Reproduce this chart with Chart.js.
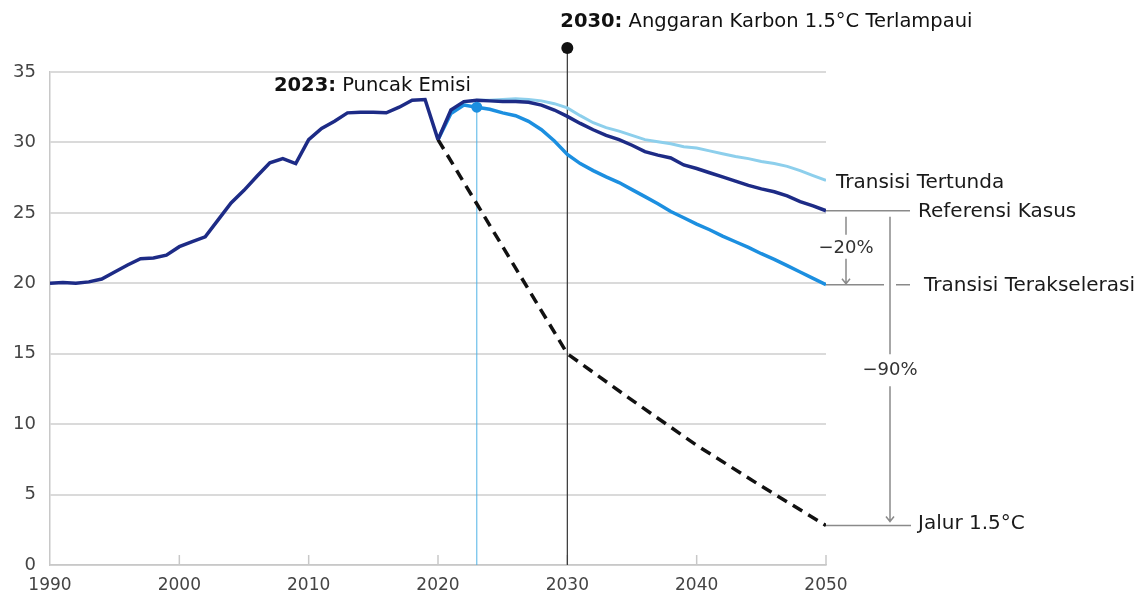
<!DOCTYPE html>
<html>
<head>
<meta charset="utf-8">
<script src="https://cdn.jsdelivr.net/npm/chart.js@4"></script>
<style>
  body { margin: 0; background: #fff; }
  #wrap { width: 1147px; height: 596px; }
</style>
</head>
<body>
<div id="wrap"><canvas id="emisiChart"></canvas></div>
<script>
// emisi historis (Gt CO2)
const tahunHistoris = [1990, 1991, 1992, 1993, 1994, 1995, 1996, 1997, 1998, 1999,
  2000, 2001, 2002, 2003, 2004, 2005, 2006, 2007, 2008, 2009,
  2010, 2011, 2012, 2013, 2014, 2015, 2016, 2017, 2018, 2019, 2020];
const emisiHistoris = [20.0, 20.05, 20.0, 20.1, 20.3, 20.8, 21.3, 21.75, 21.8, 22.0,
  22.6, 22.95, 23.3, 24.5, 25.7, 26.6, 27.6, 28.55, 28.85, 28.5,
  30.2, 31.0, 31.5, 32.1, 32.15, 32.15, 32.1, 32.5, 33.0, 33.05, 30.2];

// proyeksi 2020-2050
const tahunProyeksi = [2020, 2021, 2022, 2023, 2024, 2025, 2026, 2027, 2028, 2029,
  2030, 2031, 2032, 2033, 2034, 2035, 2036, 2037, 2038, 2039,
  2040, 2041, 2042, 2043, 2044, 2045, 2046, 2047, 2048, 2049, 2050];
const referensiKasus = [30.2, 32.3, 32.9, 33.0, 32.95, 32.9, 32.9, 32.85, 32.65, 32.3,
  31.85, 31.35, 30.9, 30.5, 30.2, 29.8, 29.35, 29.1, 28.9, 28.4,
  28.15, 27.85, 27.55, 27.25, 26.95, 26.7, 26.5, 26.2, 25.8, 25.5, 25.15];
const transisiTertunda = [30.2, 32.2, 32.85, 33.0, 33.0, 33.05, 33.1, 33.05, 32.95, 32.75,
  32.45, 31.9, 31.4, 31.05, 30.8, 30.5, 30.2, 30.05, 29.9, 29.7,
  29.6, 29.4, 29.2, 29.0, 28.85, 28.65, 28.5, 28.3, 28.0, 27.65, 27.3];
const transisiTerakselerasi = [30.2, 32.05, 32.65, 32.5, 32.35, 32.1, 31.9, 31.5, 30.9, 30.1,
  29.15, 28.5, 28.0, 27.55, 27.15, 26.65, 26.15, 25.65, 25.1, 24.65,
  24.2, 23.8, 23.35, 22.95, 22.55, 22.1, 21.7, 21.25, 20.8, 20.35, 19.9];

const tahunJalur = [2020, 2030, 2035, 2040, 2045, 2050];
const jalur15 = [30.2, 15.0, 11.7, 8.5, 5.6, 2.8];

const tahunPuncak = 2023;
const tahunAnggaran = 2030;
const xTicks = [1990, 2000, 2010, 2020, 2030, 2040, 2050];
const yTicks = [0, 5, 10, 15, 20, 25, 30, 35];

const NAVY = "#1d2b86";
const LIGHT = "#8dcfec";
const MID = "#1c8fe0";
const FONT = "'DejaVu Sans', sans-serif";

const pts = (xs, ys) => xs.map((x, i) => ({ x: x, y: ys[i] }));

const annotasi = {
  id: "annotasi",
  beforeDatasetsDraw(chart) {
    const { ctx, scales: { x, y } } = chart;
    const base = y.getPixelForValue(0);
    ctx.save();
    // tick kecil di sumbu x
    ctx.strokeStyle = "#c8c8c8";
    ctx.lineWidth = 1.5;
    xTicks.slice(1).forEach((t) => {
      const px = x.getPixelForValue(t);
      ctx.beginPath();
      ctx.moveTo(px, base);
      ctx.lineTo(px, base - 10);
      ctx.stroke();
    });
    // garis 2030
    const x30 = x.getPixelForValue(tahunAnggaran);
    ctx.strokeStyle = "#333";
    ctx.lineWidth = 1.2;
    ctx.beginPath();
    ctx.moveTo(x30, y.getPixelForValue(36.7));
    ctx.lineTo(x30, base);
    ctx.stroke();
    // garis 2023
    const i23 = tahunProyeksi.indexOf(tahunPuncak);
    const x23 = x.getPixelForValue(tahunPuncak);
    ctx.strokeStyle = "#4fb3e6";
    ctx.lineWidth = 1;
    ctx.beginPath();
    ctx.moveTo(x23, y.getPixelForValue(transisiTerakselerasi[i23]));
    ctx.lineTo(x23, base);
    ctx.stroke();
    ctx.restore();
  },
  afterDatasetsDraw(chart) {
    const { ctx, scales: { x, y } } = chart;
    const last = tahunProyeksi.length - 1;
    const x50 = x.getPixelForValue(2050);
    const yRef = y.getPixelForValue(referensiKasus[last]);
    const yAks = y.getPixelForValue(transisiTerakselerasi[last]);
    const yTer = y.getPixelForValue(transisiTertunda[last]);
    const yJal = y.getPixelForValue(jalur15[jalur15.length - 1]);
    ctx.save();

    // titik puncak 2023
    const i23 = tahunProyeksi.indexOf(tahunPuncak);
    ctx.fillStyle = MID;
    ctx.beginPath();
    ctx.arc(x.getPixelForValue(tahunPuncak), y.getPixelForValue(transisiTerakselerasi[i23]), 5.5, 0, Math.PI * 2);
    ctx.fill();

    // titik 2030
    const x30 = x.getPixelForValue(tahunAnggaran);
    ctx.fillStyle = "#111";
    ctx.beginPath();
    ctx.arc(x30, y.getPixelForValue(36.7), 6, 0, Math.PI * 2);
    ctx.fill();

    // garis penghubung label kanan
    ctx.strokeStyle = "#8a8a8a";
    ctx.lineWidth = 1.5;
    const xV = x50 + 64;
    ctx.beginPath();
    ctx.moveTo(x50, yRef); ctx.lineTo(x50 + 84, yRef);
    ctx.moveTo(x50, yAks); ctx.lineTo(xV - 6, yAks);
    ctx.moveTo(xV + 6, yAks); ctx.lineTo(x50 + 84, yAks);
    ctx.moveTo(x50, yJal); ctx.lineTo(x50 + 85, yJal);
    ctx.stroke();

    // panah -20%
    const xA = x50 + 20;
    ctx.beginPath();
    ctx.moveTo(xA, yRef + 6); ctx.lineTo(xA, yRef + 24);
    ctx.moveTo(xA, yAks - 26); ctx.lineTo(xA, yAks - 1);
    ctx.moveTo(xA - 4, yAks - 6); ctx.lineTo(xA, yAks - 1); ctx.lineTo(xA + 4, yAks - 6);
    ctx.stroke();
    // panah -90%
    const yMid = (yRef + yJal) / 2 + 2;
    ctx.beginPath();
    ctx.moveTo(xV, yRef + 6); ctx.lineTo(xV, yMid - 16);
    ctx.moveTo(xV, yMid + 16); ctx.lineTo(xV, yJal - 4);
    ctx.moveTo(xV - 4, yJal - 9); ctx.lineTo(xV, yJal - 4); ctx.lineTo(xV + 4, yJal - 9);
    ctx.stroke();

    ctx.fillStyle = "#333";
    ctx.textBaseline = "middle";
    ctx.font = "18px " + FONT;
    ctx.textAlign = "center";
    ctx.fillText("\u221220%", xA, (yRef + yAks) / 2 + 1);
    ctx.fillText("\u221290%", xV, yMid);

    ctx.fillStyle = "#1a1a1a";
    ctx.textAlign = "left";
    ctx.font = "20px " + FONT;
    ctx.fillText("Transisi Tertunda", x50 + 10, yTer + 2);
    ctx.fillText("Referensi Kasus", x50 + 92, yRef + 1);
    ctx.fillText("Transisi Terakselerasi", x50 + 98, yAks + 1);
    ctx.fillText("Jalur 1.5\u00b0C", x50 + 92, yJal - 2);

    // judul anotasi
    const drawLabel = (bold, rest, px, py, align) => {
      ctx.font = "bold 19.5px " + FONT;
      const wb = ctx.measureText(bold).width;
      ctx.font = "19.5px " + FONT;
      const wr = ctx.measureText(rest).width;
      let sx = align === "right" ? px - wb - wr : px;
      ctx.textAlign = "left";
      ctx.font = "bold 19.5px " + FONT;
      ctx.fillText(bold, sx, py);
      ctx.font = "19.5px " + FONT;
      ctx.fillText(rest, sx + wb, py);
    };
    ctx.fillStyle = "#111";
    drawLabel("2030:", " Anggaran Karbon 1.5\u00b0C Terlampaui", x30 - 7, 22, "left");
    drawLabel("2023:", " Puncak Emisi", x.getPixelForValue(tahunPuncak) - 6, 86, "right");
    ctx.restore();
  },
};

new Chart(document.getElementById("emisiChart"), {
  type: "line",
  data: {
    datasets: [
      {
        label: "Historis",
        data: pts(tahunHistoris, emisiHistoris),
        borderColor: NAVY,
        borderWidth: 3.5,
        pointRadius: 0,
        order: 0,
      },
      {
        label: "Referensi Kasus",
        data: pts(tahunProyeksi, referensiKasus),
        borderColor: NAVY,
        borderWidth: 3.5,
        pointRadius: 0,
        order: 1,
      },
      {
        label: "Jalur 1.5°C",
        data: pts(tahunJalur, jalur15),
        borderColor: "#111",
        borderWidth: 3.5,
        borderDash: [11, 7],
        pointRadius: 0,
        order: 2,
      },
      {
        label: "Transisi Terakselerasi",
        data: pts(tahunProyeksi, transisiTerakselerasi),
        borderColor: MID,
        borderWidth: 3.5,
        pointRadius: 0,
        order: 3,
      },
      {
        label: "Transisi Tertunda",
        data: pts(tahunProyeksi, transisiTertunda),
        borderColor: LIGHT,
        borderWidth: 3,
        pointRadius: 0,
        order: 4,
      },
    ],
  },
  options: {
    responsive: true,
    maintainAspectRatio: false,
    animation: false,
    layout: { padding: { top: 72, right: 321, bottom: 0, left: 0 } },
    plugins: { legend: { display: false }, tooltip: { enabled: false } },
    scales: {
      x: {
        type: "linear",
        min: 1990,
        max: 2050,
        afterBuildTicks: (s) => { s.ticks = xTicks.map((v) => ({ value: v })); },
        afterFit: (s) => { s.height = 31; },
        grid: { display: false, drawTicks: false },
        border: { display: true, color: "#c8c8c8", width: 1.5 },
        ticks: {
          padding: 10,
          color: "#444",
          font: { family: FONT, size: 17 },
          callback: (v) => String(v),
        },
      },
      y: {
        min: 0,
        max: 35,
        afterBuildTicks: (s) => { s.ticks = yTicks.map((v) => ({ value: v })); },
        afterFit: (s) => { s.width = 50; },
        grid: { color: "#dadada", lineWidth: 2, drawTicks: false },
        border: { display: true, color: "#c8c8c8", width: 1.5 },
        ticks: {
          padding: 14,
          color: "#444",
          font: { family: FONT, size: 18 },
        },
      },
    },
  },
  plugins: [annotasi],
});
</script>
</body>
</html>
